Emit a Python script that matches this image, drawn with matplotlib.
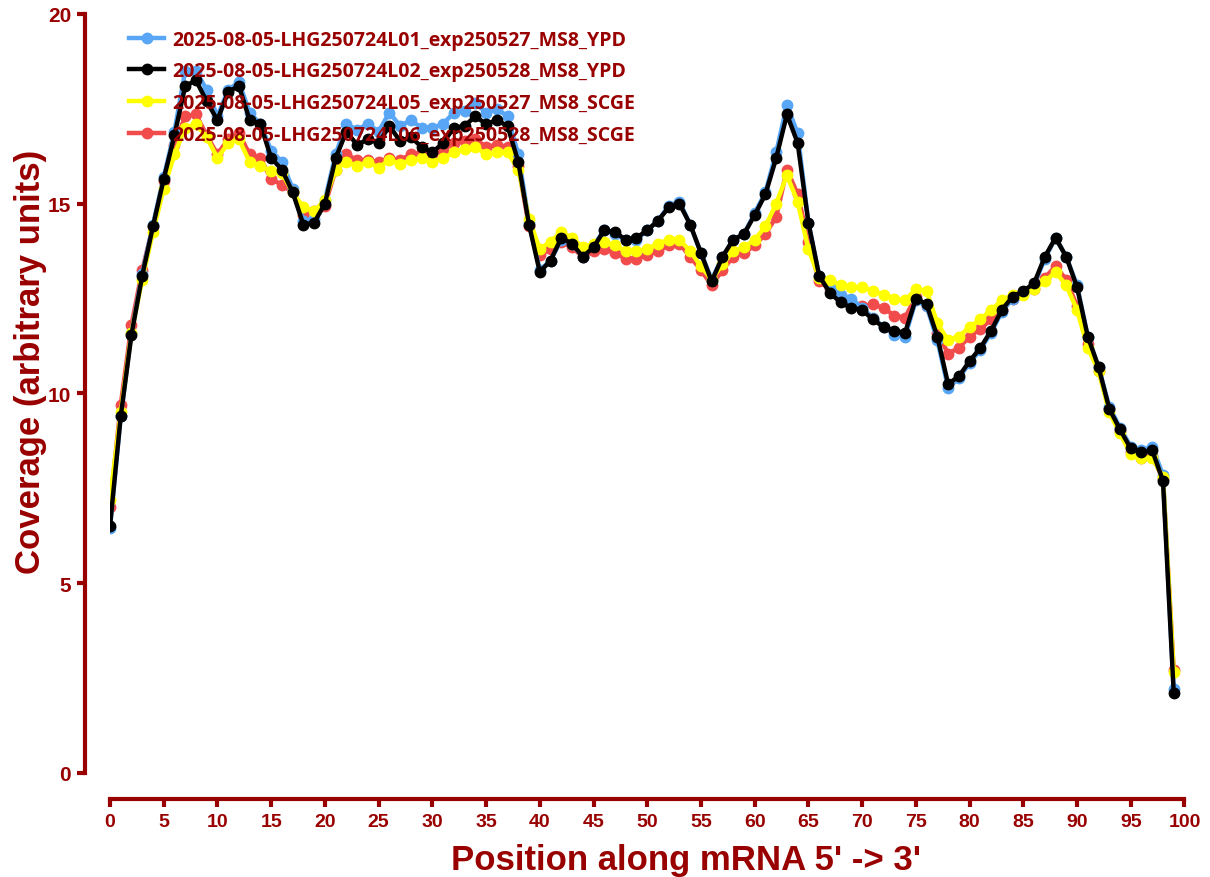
import numpy as np
import matplotlib
matplotlib.use("Agg")
import matplotlib.pyplot as plt

# position along mRNA (percent bins)
positions = np.arange(100)

labels = [
    "2025-08-05-LHG250724L01_exp250527_MS8_YPD",
    "2025-08-05-LHG250724L02_exp250528_MS8_YPD",
    "2025-08-05-LHG250724L05_exp250527_MS8_SCGE",
    "2025-08-05-LHG250724L06_exp250528_MS8_SCGE",
]

# coverage values
cov_l01 = [
    6.45, 9.4, 11.6, 13.15, 14.45, 15.7, 16.9, 18.5, 18.5, 18.0,
    17.3, 18.0, 18.2, 17.4, 17.1, 16.4, 16.1, 15.4, 14.55, 14.6,
    15.1, 16.3, 17.1, 16.95, 17.1, 16.9, 17.4, 17.05, 17.2, 17.0,
    17.0, 17.1, 17.4, 17.45, 17.65, 17.4, 17.5, 17.3, 16.3, 14.5,
    13.25, 13.5, 14.05, 13.95, 13.6, 13.9, 14.3, 14.2, 14.05, 14.05,
    14.3, 14.55, 14.95, 15.05, 14.45, 13.7, 13.0, 13.6, 14.05, 14.2,
    14.75, 15.3, 16.35, 17.6, 16.85, 14.5, 13.1, 12.8, 12.6, 12.5,
    12.25, 12.0, 11.75, 11.55, 11.5, 12.45, 12.3, 11.4, 10.15, 10.4,
    10.8, 11.15, 11.6, 12.15, 12.5, 12.65, 12.85, 13.55, 14.1, 13.6,
    12.85, 11.5, 10.7, 9.65, 9.1, 8.6, 8.5, 8.6, 7.85, 2.2,
]
cov_l02 = [
    6.5, 9.4, 11.55, 13.1, 14.4, 15.65, 16.8, 18.1, 18.25, 17.7,
    17.2, 17.95, 18.1, 17.2, 17.1, 16.2, 15.9, 15.3, 14.45, 14.5,
    15.0, 16.2, 16.9, 16.55, 16.7, 16.6, 17.05, 16.65, 16.75, 16.5,
    16.35, 16.6, 17.0, 17.05, 17.3, 17.1, 17.2, 17.05, 16.1, 14.45,
    13.2, 13.5, 14.1, 13.95, 13.6, 13.85, 14.3, 14.25, 14.05, 14.1,
    14.3, 14.55, 14.9, 15.0, 14.45, 13.7, 12.95, 13.6, 14.05, 14.2,
    14.7, 15.25, 16.2, 17.35, 16.6, 14.5, 13.1, 12.65, 12.4, 12.25,
    12.2, 11.95, 11.75, 11.65, 11.6, 12.5, 12.35, 11.5, 10.25, 10.45,
    10.85, 11.2, 11.65, 12.2, 12.55, 12.7, 12.9, 13.6, 14.1, 13.6,
    12.8, 11.5, 10.7, 9.6, 9.05, 8.55, 8.45, 8.5, 7.7, 2.1,
]
cov_l05 = [
    7.2, 9.5, 11.6, 13.0, 14.25, 15.4, 16.3, 17.0, 17.1, 16.75,
    16.2, 16.6, 16.7, 16.1, 16.0, 15.85, 15.8, 15.3, 14.9, 14.8,
    15.1, 15.9, 16.1, 16.0, 16.1, 15.95, 16.15, 16.05, 16.15, 16.2,
    16.1, 16.2, 16.35, 16.45, 16.5, 16.3, 16.35, 16.35, 15.9, 14.6,
    13.8, 14.0, 14.25, 14.1, 13.85, 13.95, 14.0, 13.9, 13.75, 13.75,
    13.8, 13.95, 14.05, 14.05, 13.75, 13.35, 13.0, 13.4, 13.75, 13.85,
    14.05, 14.4, 15.0, 15.75, 15.05, 13.8, 13.05, 13.0, 12.85, 12.8,
    12.8, 12.7, 12.6, 12.5, 12.45, 12.75, 12.7, 11.85, 11.4, 11.5,
    11.75, 11.95, 12.2, 12.45, 12.6, 12.6, 12.75, 12.95, 13.2, 12.85,
    12.2, 11.2, 10.6, 9.5, 8.95, 8.4, 8.3, 8.3, 7.8, 2.65,
]
cov_l06 = [
    7.0, 9.7, 11.8, 13.25, 14.4, 15.6, 16.55, 17.3, 17.35, 16.8,
    16.3, 16.7, 16.85, 16.3, 16.2, 15.65, 15.5, 15.3, 14.7, 14.8,
    14.95, 15.9, 16.3, 16.15, 16.15, 16.1, 16.2, 16.15, 16.3, 16.35,
    16.3, 16.4, 16.6, 16.65, 16.7, 16.5, 16.55, 16.5, 16.0, 14.4,
    13.65, 13.8, 14.0, 13.85, 13.6, 13.75, 13.8, 13.7, 13.55, 13.55,
    13.65, 13.75, 13.9, 13.95, 13.6, 13.25, 12.85, 13.25, 13.6, 13.7,
    13.9, 14.2, 14.65, 15.9, 15.25, 14.0, 12.95, 12.75, 12.5, 12.4,
    12.3, 12.35, 12.25, 12.05, 12.0, 12.55, 12.3, 11.6, 11.05, 11.2,
    11.5, 11.7, 11.95, 12.2, 12.5, 12.65, 12.75, 13.05, 13.35, 13.0,
    12.3, 11.3, 10.6, 9.6, 9.0, 8.45, 8.3, 8.35, 7.75, 2.7,
]

colors = ["#58a6f5", "black", "#ffff00", "#f24b4b"]
zorders = [3, 5, 4, 2]
dark_red = "#990000"

fig = plt.figure(figsize=(12.1, 8.78), dpi=100)
ax = fig.add_axes([0.0909, 0.1185, 0.888, 0.8645])

series = [cov_l01, cov_l02, cov_l05, cov_l06]
for cov, lab, col, zo in zip(series, labels, colors, zorders):
    ax.plot(positions, cov, color=col, lw=3.2, marker="o", markersize=7.5,
            label=lab, zorder=zo)

ax.set_xlim(0, 100)
ax.set_ylim(0, 20)
ax.set_xticks(np.arange(0, 101, 5))
ax.set_yticks([0, 5, 10, 15, 20])

# prism-like detached axes (offsets in points)
for side in ["top", "right"]:
    ax.spines[side].set_visible(False)
ax.spines["left"].set_position(("outward", 18))
ax.spines["bottom"].set_position(("outward", 19))
for side in ["left", "bottom"]:
    ax.spines[side].set_color(dark_red)
    ax.spines[side].set_linewidth(3)
ax.tick_params(colors=dark_red, width=3, length=6)
ax.tick_params(axis="x", labelsize=14, pad=4)
ax.tick_params(axis="y", labelsize=15, pad=4)
for t in ax.get_xticklabels() + ax.get_yticklabels():
    t.set_fontweight("bold")
    t.set_family("Liberation Sans")

ax.set_xlabel("Position along mRNA 5' -> 3'", fontsize=25, fontweight="bold",
              color=dark_red, family="Liberation Sans")
ax.set_ylabel("Coverage (arbitrary units)", fontsize=25, fontweight="bold",
              color=dark_red, family="Liberation Sans")
ax.xaxis.set_label_coords(0.536, -0.092)
ax.yaxis.set_label_coords(-0.059, 0.543)

# legend order: L01, L02, L05, L06
handles, labs = ax.get_legend_handles_labels()
leg = ax.legend(handles, labs, loc="upper left", bbox_to_anchor=(0.0, 1.005),
                frameon=False, handlelength=1.8, handletextpad=0.4,
                labelspacing=0.6, borderaxespad=0.6,
                prop={"family": "Open Sans", "weight": "bold", "size": 14})
for t in leg.get_texts():
    t.set_color(dark_red)
leg.set_zorder(10)

fig.savefig("out.png", dpi=100)
